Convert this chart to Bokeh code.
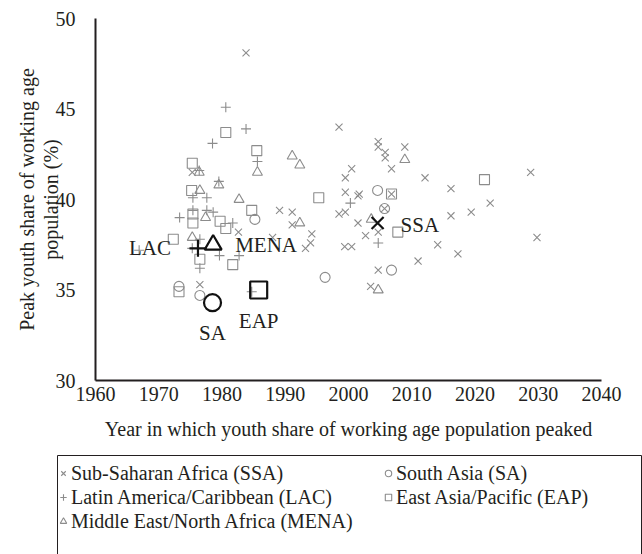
from bokeh.plotting import figure
from bokeh.layouts import column
from bokeh.models import Range1d, FixedTicker, Legend, LegendItem, ColumnDataSource
from bokeh.core.properties import value
from bokeh.embed import file_html
from bokeh.resources import INLINE

# --- data ---
ssa_year = [1983.8, 1998.5, 2004.7, 2004.7, 2005.8, 2005.8, 2008.9, 2000.5, 2006.8, 1999.5,
            2012.1, 1999.5, 2001.5, 2001.7, 2006.8, 2016.2, 2005.7, 1998.5, 1999.5, 1991.1,
            1989.1, 1991.1, 2001.5, 2016.2, 2019.4, 2004.7, 2002.7, 1994.2, 1994.0, 1993.2,
            1999.4, 2000.5, 2014.1, 2017.3, 2011.0, 2004.7, 2003.5, 1988.0, 1982.6, 1975.3,
            1976.5, 2022.4, 2028.8, 2029.8]
ssa_share = [48.1, 44.0, 43.2, 42.9, 42.6, 42.3, 42.9, 41.7, 41.7, 41.2,
             41.2, 40.4, 40.2, 40.3, 40.3, 40.6, 39.5, 39.2, 39.3, 39.3,
             39.4, 38.6, 38.7, 39.1, 39.3, 38.2, 38.0, 38.1, 37.6, 37.3,
             37.4, 37.4, 37.5, 37.0, 36.6, 36.1, 35.2, 37.9, 38.2, 41.5,
             35.3, 39.8, 41.5, 37.9]

lac_year = [1980.6, 1983.8, 1978.5, 1985.6, 1976.4, 1979.5, 1975.4, 1977.6, 1975.4, 1977.6,
            1978.6, 1973.3, 1981.7, 1976.5, 1975.3, 1979.6, 1982.7, 1976.5, 2000.3, 2004.7,
            1984.7, 1966.9]
lac_share = [45.1, 43.9, 43.1, 42.1, 41.6, 41.0, 40.1, 40.1, 39.4, 39.4,
             39.3, 39.0, 38.7, 37.8, 37.3, 36.9, 36.9, 36.2, 39.8, 37.6,
             34.9, 37.2]

mena_year = [1985.6, 1976.4, 1979.5, 1976.5, 1982.7, 1977.4, 1975.3, 1991.1, 1992.3, 1992.3,
             2008.9, 2003.6, 2004.7]
mena_share = [41.5, 41.5, 40.8, 40.5, 40.0, 39.0, 37.9, 42.4, 41.9, 38.7,
              42.2, 38.9, 35.0]

sa_year = [1985.2, 2004.6, 2005.7, 2006.8, 1996.3, 1973.2, 1976.5]
sa_share = [38.9, 40.5, 39.5, 36.1, 35.7, 35.2, 34.7]

eap_year = [1980.6, 1985.5, 1975.3, 1975.2, 1975.4, 1984.7, 1975.4, 1979.7, 1980.6, 1972.3,
            1976.5, 1981.7, 1973.2, 1995.3, 2006.8, 2007.8, 2021.5]
eap_share = [43.7, 42.7, 42.0, 40.5, 39.2, 39.4, 38.7, 38.8, 38.4, 37.8,
             36.7, 36.4, 34.9, 40.1, 40.3, 38.2, 41.1]

# regional averages (large black markers)
avg_label = ["SSA", "LAC", "MENA", "SA", "EAP"]
avg_year = [2004.6, 1976.2, 1978.6, 1978.5, 1985.8]
avg_share = [38.7, 37.3, 37.5, 34.3, 35.0]

x_ticks = [1960, 1970, 1980, 1990, 2000, 2010, 2020, 2030, 2040]
y_ticks = [30, 35, 40, 45, 50]

legend_names = ["Sub-Saharan Africa (SSA)", "Latin America/Caribbean (LAC)",
                "Middle East/North Africa (MENA)", "South Asia (SA)", "East Asia/Pacific (EAP)"]

groups = [(ssa_year, ssa_share, "x"), (lac_year, lac_share, "cross"),
          (mena_year, mena_share, "triangle"), (sa_year, sa_share, "circle"),
          (eap_year, eap_share, "square")]

FONT = "Liberation Serif"
GRAY = "#8c8c8c"
DARK = "#231f20"

p = figure(frame_width=506, frame_height=362, min_border_left=95, min_border_right=41,
           min_border_top=18, min_border_bottom=75,
           x_range=Range1d(1960, 2040), y_range=Range1d(30, 50),
           output_backend="svg", toolbar_location=None)
p.outline_line_color = None
p.grid.grid_line_color = None
p.background_fill_color = "white"

for ax in (p.xaxis, p.yaxis):
    ax.axis_line_width = 2
    ax.axis_line_color = DARK
    ax.major_tick_line_color = None
    ax.minor_tick_line_color = None
    ax.major_label_text_font = FONT
    ax.major_label_text_font_size = "20px"
    ax.major_label_text_color = DARK
    ax.axis_label_text_font = FONT
    ax.axis_label_text_font_size = "20px"
    ax.axis_label_text_font_style = "normal"
    ax.axis_label_text_color = DARK
    ax.axis_label_text_line_height = 1.05

p.xaxis.ticker = FixedTicker(ticks=x_ticks)
p.yaxis.ticker = FixedTicker(ticks=y_ticks)
p.xaxis.major_label_standoff = 0
p.yaxis.major_label_standoff = 14
p.xaxis.axis_label = "Year in which youth share of working age population peaked"
p.yaxis.axis_label = "Peak youth share of working age\npopulation (%)"
p.xaxis.axis_label_standoff = 14
p.yaxis.axis_label_standoff = -9

kw = dict(size=10, line_color=GRAY, line_width=1.1, fill_color=None)
for xs, ys, mk in groups:
    p.scatter(xs, ys, marker=mk, **kw)

src = ColumnDataSource(dict(x=avg_year, y=avg_share, label=avg_label,
                            marker=["x", "cross", "triangle", "circle", "square"]))
p.scatter("x", "y", marker="marker", source=src, size=17, line_color="#111111",
          line_width=2.2, fill_color=None)

FONT_V = value(FONT)


def lab(i, dx, dy, align):
    p.text([avg_year[i]], [avg_share[i]], text=[avg_label[i]], x_offset=dx, y_offset=dy,
           text_align=align, text_baseline="middle", text_font=FONT_V,
           text_font_size="21px", text_color=DARK)


lab(0, 23, 2, "left")
lab(1, -27, 0, "right")
lab(2, 22, 0, "left")
lab(3, 0, 30, "center")
lab(4, 0, 31, "center")

# --- legend panel (boxed, below the chart) ---
q = figure(frame_width=584, frame_height=110, min_border_left=57, min_border_right=1,
           min_border_top=0, min_border_bottom=0,
           x_range=Range1d(0, 1), y_range=Range1d(0, 1),
           x_axis_location=None, y_axis_location=None,
           output_backend="svg", toolbar_location=None)
q.outline_line_color = DARK
q.outline_line_width = 1
q.grid.visible = False
q.background_fill_color = "white"
for fig in (p, q):
    if hasattr(fig, "frame_align"):
        fig.frame_align = False

rends = [q.scatter(xs, ys, marker=mk, **kw) for xs, ys, mk in groups]
items = [LegendItem(label=legend_names[i], renderers=[rends[i]]) for i in range(5)]
lg = Legend(items=items, location=(-2, 32), orientation="vertical", nrows=3, ncols=2,
            border_line_color=None, background_fill_alpha=0,
            label_text_font=FONT, label_text_font_size="20px", label_text_color=DARK,
            glyph_width=16, glyph_height=20, label_height=24, label_standoff=0,
            label_width=309, spacing=0, padding=2, margin=0)
q.add_layout(lg, "center")

open("out.html", "w").write(file_html(column(p, q, spacing=0), INLINE))
